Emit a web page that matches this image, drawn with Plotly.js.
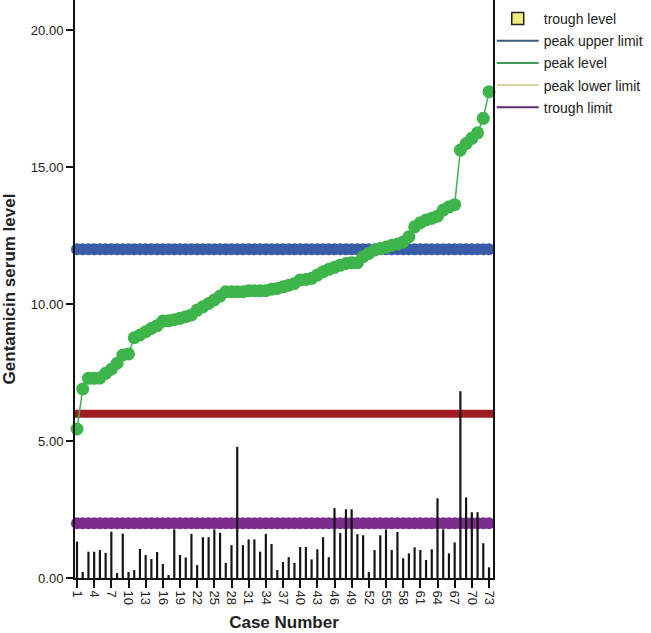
<!DOCTYPE html>
<html>
<head>
<meta charset="utf-8">
<script src="https://cdn.plot.ly/plotly-3.0.1.min.js"></script>
<style>html,body{margin:0;padding:0;background:#fff;}#chart{width:651px;height:633px;}</style>
</head>
<body>
<div id="chart"></div>
<script>
// ---- data ----
const caseNumbers = Array.from({length: 73}, (_, i) => i + 1);
const peakLevel = [
  5.44, 6.90, 7.29, 7.29, 7.30, 7.47, 7.62, 7.84, 8.14, 8.18,
  8.77, 8.87, 8.99, 9.11, 9.21, 9.38, 9.39, 9.43, 9.48, 9.54,
  9.60, 9.78, 9.90, 10.02, 10.15, 10.29, 10.45, 10.45, 10.45, 10.45,
  10.49, 10.49, 10.49, 10.49, 10.54, 10.57, 10.63, 10.69, 10.75, 10.88,
  10.90, 10.94, 11.06, 11.18, 11.27, 11.34, 11.42, 11.48, 11.51, 11.51,
  11.73, 11.85, 11.97, 12.03, 12.07, 12.15, 12.19, 12.27, 12.46, 12.82,
  12.97, 13.07, 13.13, 13.21, 13.43, 13.55, 13.63, 15.62, 15.86, 16.05,
  16.25, 16.78, 17.75
];
const troughLevel = [
  1.33, 0.22, 0.96, 0.96, 1.02, 0.92, 1.69, 0.18, 1.62, 0.22,
  0.29, 1.06, 0.84, 0.69, 0.95, 0.51, 0.11, 1.77, 0.84, 0.75,
  1.61, 0.47, 1.49, 1.49, 1.77, 1.65, 0.55, 1.20, 4.79, 1.20,
  1.41, 1.41, 0.96, 1.61, 1.24, 0.29, 0.59, 0.76, 0.55, 1.13,
  1.13, 0.68, 1.05, 1.49, 0.76, 2.55, 1.64, 2.51, 2.51, 1.60,
  1.56, 0.22, 1.02, 1.56, 1.77, 1.02, 1.68, 0.72, 0.90, 1.12,
  1.02, 0.66, 1.05, 2.91, 1.77, 0.90, 1.30, 6.82, 2.94, 2.40,
  2.40, 1.27, 0.39
];
const peakUpperLimit = 12;
const peakLowerLimit = 6;
const troughLimit = 2;
const tickValues = [1,4,7,10,13,16,19,22,25,28,31,34,37,40,43,46,49,52,55,58,61,64,67,70,73];
const tickLabels = tickValues.map(String);

const FONT = '"Liberation Sans", Arial, sans-serif';
const xr = [0.65, 73.7], yr = [0, 21.1];

const traces = [
  {x: caseNumbers, y: caseNumbers.map(() => peakUpperLimit), type: 'scatter', mode: 'lines+markers',
   line: {color: '#3a5ca8', width: 2}, marker: {color: '#3a5ca8', size: 12, line: {width: 0}},
   cliponaxis: false, showlegend: false, hoverinfo: 'skip'},
  {x: caseNumbers, y: caseNumbers.map(() => troughLimit), type: 'scatter', mode: 'lines+markers',
   line: {color: '#7b2d8e', width: 2}, marker: {color: '#7b2d8e', size: 12, line: {width: 0}},
   cliponaxis: false, showlegend: false, hoverinfo: 'skip'},
  {x: caseNumbers, y: peakLevel, type: 'scatter', mode: 'lines+markers',
   line: {color: '#3db54a', width: 1.5}, marker: {color: '#3db54a', size: 13, line: {width: 0}},
   cliponaxis: false, showlegend: false, hoverinfo: 'skip'},
  {x: caseNumbers, y: troughLevel, type: 'bar', xaxis: 'x2', yaxis: 'y2', width: 0.38,
   marker: {color: '#141414', line: {width: 0}}, showlegend: false, hoverinfo: 'skip'},
  {x: [null], y: [null], type: 'scatter', mode: 'markers', name: 'trough level', legendgroup: 'a',
   marker: {symbol: 'square', size: 12, color: '#f3ea7c', line: {color: '#222', width: 1.5}}},
  {x: [null], y: [null], type: 'scatter', mode: 'lines', name: 'peak upper limit', legendgroup: 'b',
   line: {color: '#3c5a7c', width: 2}},
  {x: [null], y: [null], type: 'scatter', mode: 'lines', name: 'peak level', legendgroup: 'c',
   line: {color: '#3f9a5c', width: 2}},
  {x: [null], y: [null], type: 'scatter', mode: 'lines', name: 'peak lower limit', legendgroup: 'd',
   line: {color: '#d7d3a3', width: 2}},
  {x: [null], y: [null], type: 'scatter', mode: 'lines', name: 'trough limit', legendgroup: 'e',
   line: {color: '#5d2e70', width: 2}}
];

const layout = {
  width: 651, height: 633,
  margin: {l: 75, r: 158, t: 0, b: 55, pad: 0},
  paper_bgcolor: '#fff', plot_bgcolor: '#fff',
  font: {family: FONT, color: '#222', size: 13},
  showlegend: true,
  legend: {x: 0.997, y: 0.995, xanchor: 'left', yanchor: 'top', tracegroupgap: 1, itemwidth: 42,
           font: {family: FONT, size: 14, color: '#222'}, bgcolor: 'rgba(0,0,0,0)'},
  xaxis: {range: xr, tickmode: 'array', tickvals: tickValues, ticktext: tickLabels, tickangle: 90,
          ticks: 'outside', ticklen: 8, tickwidth: 2, tickcolor: '#111',
          showline: true, linecolor: '#111', linewidth: 2, showgrid: false, zeroline: false,
          tickfont: {family: FONT, size: 13, color: '#222'},
          title: {text: '<b>Case Number</b>', font: {family: FONT, size: 17, color: '#222'}, standoff: 12}},
  yaxis: {range: yr, tickvals: [0,5,10,15,20], tickformat: '.2f',
          ticks: 'outside', ticklen: 7, tickwidth: 2, tickcolor: '#111',
          showline: true, mirror: true, linecolor: '#111', linewidth: 2, showgrid: false, zeroline: false,
          tickfont: {family: FONT, size: 13, color: '#222'},
          title: {text: '<b>Gentamicin serum level</b>', font: {family: FONT, size: 17, color: '#222'}, standoff: 12}},
  xaxis2: {range: xr, overlaying: 'x', visible: false, showgrid: false, zeroline: false},
  yaxis2: {range: yr, overlaying: 'y', visible: false, showgrid: false, zeroline: false},
  shapes: [
    {type: 'line', xref: 'paper', x0: 0, x1: 1, yref: 'y', y0: peakLowerLimit, y1: peakLowerLimit,
     line: {color: '#9e1c22', width: 8}, layer: 'below'}
  ]
};

Plotly.newPlot('chart', traces, layout, {displayModeBar: false, staticPlot: true});
</script>
</body>
</html>
